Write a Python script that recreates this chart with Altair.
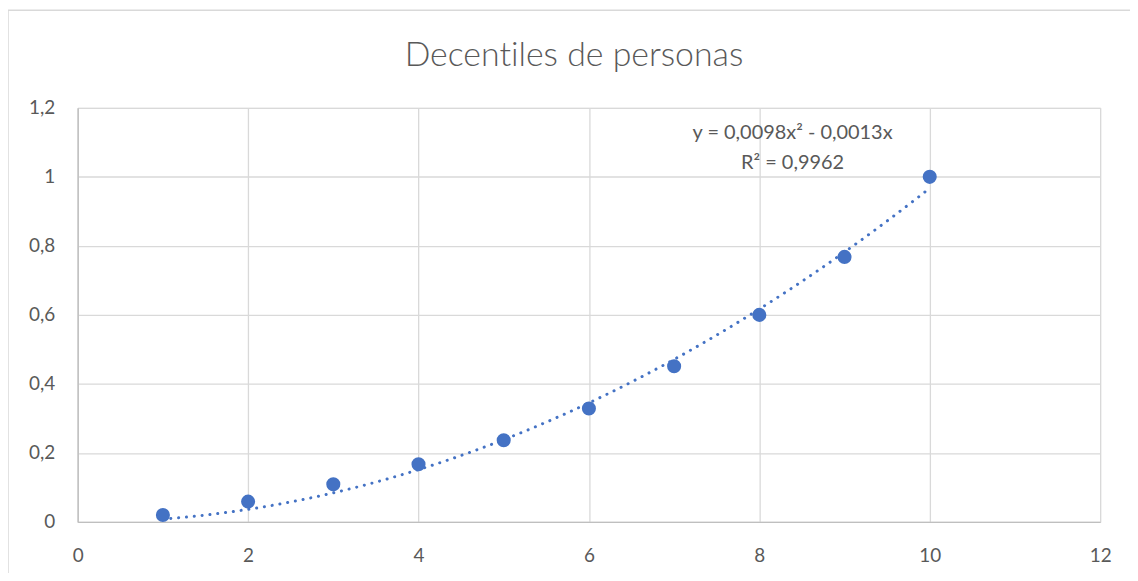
import altair as alt
import pandas as pd

deciles = [1, 2, 3, 4, 5, 6, 7, 8, 9, 10]
valores = [0.020, 0.059, 0.109, 0.167, 0.237, 0.329, 0.451, 0.600, 0.768, 1.000]

# Trendline shown in the chart: y = 0,0098x² - 0,0013x (through origin)
trend_coef = [0.0098, -0.0013]
trend_range = [1, 10]

eq_lines = ["y = 0,0098x² - 0,0013x", "R² = 0,9962"]
eq_x = [8.39, 8.39]
eq_y = [1.126, 1.041]

# zero-width non-joiner keeps the "ti" from forming a ligature
title_text = ["Decent\u200ciles de personas"]

df = pd.DataFrame({"decil": deciles, "valor": valores})
eq = pd.DataFrame({"t": eq_lines, "x": eq_x, "y": eq_y})
tdf = pd.DataFrame({"t": title_text})

BLUE = "#4472C4"
GRAY = "#595959"
FONT = "Lato"

xs = alt.Scale(domain=[0, 12], nice=False, zero=False)
ys = alt.Scale(domain=[0, 1.2], nice=False)

xaxis = alt.Axis(values=[0, 2, 4, 6, 8, 10, 12], title=None, format="~g",
                 labelExpr="replace(datum.label, '.', ',')", labelFlush=False,
                 ticks=False, tickSize=0, labelPadding=25, labelFontSize=19,
                 labelColor=GRAY, labelFont=FONT, gridColor="#d9d9d9", gridWidth=1.3,
                 domainColor="#bfbfbf", domainWidth=1.3)
yaxis = alt.Axis(values=[0, 0.2, 0.4, 0.6, 0.8, 1.0, 1.2], title=None, format="~g",
                 labelExpr="replace(datum.label, '.', ',')", labelFlush=False,
                 ticks=False, tickSize=0, labelPadding=23, labelFontSize=19,
                 labelColor=GRAY, labelFont=FONT, gridColor="#d9d9d9", gridWidth=1.3,
                 domainColor="#bfbfbf", domainWidth=1.3)

base = alt.Chart(df)

frame = base.mark_rect(fill=None, stroke="#d9d9d9", strokeWidth=1.5).encode(
    x=alt.value(-70), x2=alt.value(1200), y=alt.value(-98), y2=alt.value(600)
).transform_filter("datum.decil == 1")

a, b = trend_coef
trend = alt.Chart(alt.sequence(trend_range[0], trend_range[1] + 0.001, 0.05, as_="decil")).transform_calculate(
    valor=f"{a} * datum.decil * datum.decil + ({b}) * datum.decil"
).mark_line(color=BLUE, strokeWidth=3, strokeCap="round", strokeDash=[0.1, 7.8]).encode(
    x=alt.X("decil:Q", scale=xs, axis=xaxis),
    y=alt.Y("valor:Q", scale=ys, axis=yaxis),
)

points = base.mark_circle(size=200, color=BLUE, opacity=1).encode(
    x=alt.X("decil:Q", scale=xs),
    y=alt.Y("valor:Q", scale=ys),
)

text = alt.Chart(eq).mark_text(fontSize=20, color=GRAY, font=FONT, align="center",
                               baseline="middle").encode(
    x=alt.X("x:Q", scale=xs), y=alt.Y("y:Q", scale=ys), text="t:N"
)

title = alt.Chart(tdf).mark_text(fontSize=34, color=GRAY, font=FONT, fontWeight=300,
                                 align="center", baseline="alphabetic").encode(
    x=alt.value(498.5), y=alt.value(-42), text="t:N"
)

chart = alt.layer(trend, points, text, title, frame).properties(
    width=1027, height=416,
    padding={"left": 70, "top": 99, "right": 30, "bottom": 50},
    autosize="none",
).configure_view(stroke=None).configure(background="white")

chart.save("out.html", embed_options={"renderer": "svg", "actions": False})
